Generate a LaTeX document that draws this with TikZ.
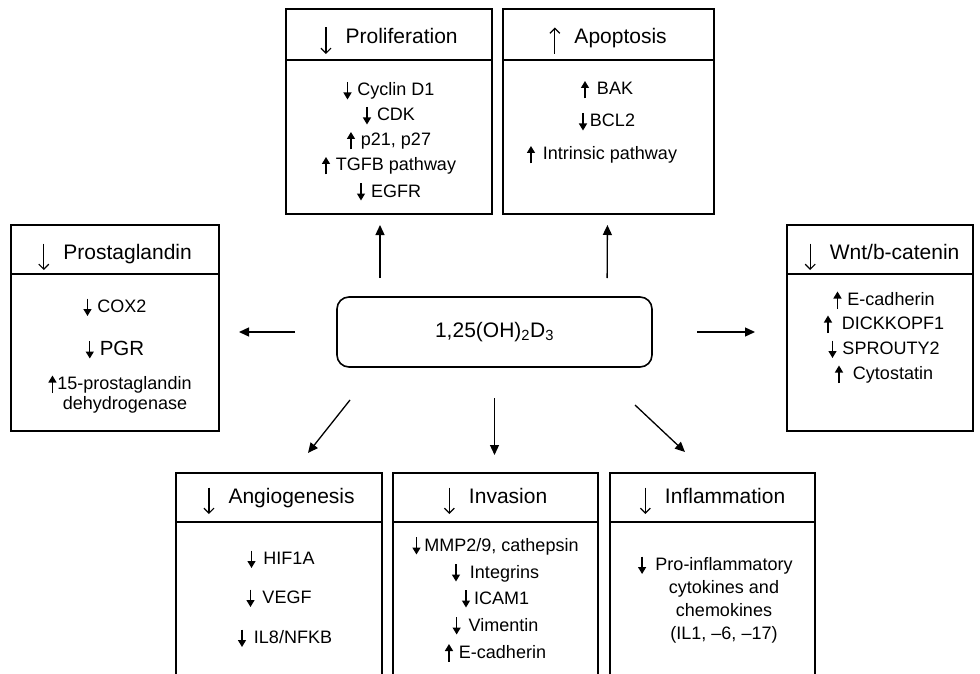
\documentclass[tikz,border=0pt]{standalone}
\usepackage{fontspec}
\setmainfont{Liberation Sans}
\usetikzlibrary{arrows.meta}
\newcommand\idn{\tikz[baseline=0pt]\draw[line width=1.4pt,-{Triangle[length=7pt,width=8pt]}] (0pt,14pt)--(0pt,-3.5pt);}
\newcommand\iup{\tikz[baseline=0pt]\draw[line width=1.4pt,-{Triangle[length=7pt,width=8pt]}] (0pt,-3.5pt)--(0pt,14pt);}
\newcommand\hdn{\tikz[baseline=0pt]\draw[line width=1.2pt,-{Straight Barb[length=5pt,width=10pt]}] (0pt,16pt)--(0pt,-10.5pt);}
\newcommand\hup{\tikz[baseline=0pt]\draw[line width=1.2pt,-{Straight Barb[length=5pt,width=10pt]}] (0pt,-10.5pt)--(0pt,16pt);}
\begin{document}
\begin{tikzpicture}[x=1pt,y=-1pt,
  frame/.style={draw,line width=1.6pt,inner sep=0pt,outer sep=0pt},
  divl/.style={line width=1.6pt},
  hd/.style={font=\fontsize{21}{25}\selectfont,anchor=base,inner sep=0pt},
  it/.style={font=\fontsize{18}{22}\selectfont,anchor=base,inner sep=0pt},
  conn/.style={line width=1.3pt,-{Triangle[length=10pt,width=9pt]}}]
\useasboundingbox (0,0) rectangle (980,674);
\clip (0,0) rectangle (980,674);
\fill[white] (0,0) rectangle (980,674);

% centre
\node[frame,rounded corners=12pt,minimum width=315pt,minimum height=70pt,font=\fontsize{21}{25}\selectfont] (cbox) at (494.5,332) {1,25(OH)\textsubscript{2}D\textsubscript{3}};

% Proliferation
\node[frame,minimum width=206pt,minimum height=205pt,anchor=north west] (prolif) at (286,9) {};
\draw[divl] (286,60) -- (492,60);
\node[hd] (prolifH) at (389,43.5) {\hdn\hspace{14pt}Proliferation};
\node[it] (p1) at (389,96) {\idn\hspace{6pt}Cyclin D1};
\node[it] (p2) at (389,121) {\idn\hspace{6pt}CDK};
\node[it] (p3) at (389,146) {\iup\hspace{6pt}p21, p27};
\node[it] (p4) at (389,171) {\iup\hspace{6pt}TGFB pathway};
\node[it] (p5) at (389,197) {\idn\hspace{6pt}EGFR};

% Apoptosis
\node[frame,minimum width=211pt,minimum height=205pt,anchor=north west] (apop) at (503,9) {};
\draw[divl] (503,60) -- (714,60);
\node[hd] (apopH) at (608,43.5) {\hup\hspace{14pt}Apoptosis};
\node[it] (a1) at (607,95) {\iup\hspace{8pt}BAK};
\node[it] (a2) at (607,127) {\idn\hspace{3pt}BCL2};
\node[it] (a3) at (602,160) {\iup\hspace{8pt}Intrinsic pathway};

% Prostaglandin
\node[frame,minimum width=208pt,minimum height=206pt,anchor=north west] (prosta) at (11,225) {};
\draw[divl] (11,274) -- (219,274);
\node[hd] (prostaH) at (115,259.5) {\hdn\hspace{14pt}Prostaglandin};
\node[it] (g1) at (115,312.5) {\idn\hspace{6pt}COX2};
\node[it,font=\fontsize{20.5}{24}\selectfont] (g2) at (115,355) {\idn\hspace{6pt}PGR};
\node[it] (g3) at (120,389.5) {\iup\hspace{1pt}15-prostaglandin};
\node[it] (g4) at (125,409.5) {dehydrogenase};

% Wnt
\node[frame,minimum width=186pt,minimum height=206pt,anchor=north west] (wnt) at (787,225) {};
\draw[divl] (787,274) -- (973,274);
\node[hd] (wntH) at (882,259.5) {\hdn\hspace{14pt}Wnt/b-catenin};
\node[it] (w1) at (884,305.5) {\iup\hspace{6pt}E-cadherin};
\node[it] (w2) at (884,329.5) {\iup\hspace{10pt}DICKKOPF1};
\node[it] (w3) at (884,354.5) {\idn\hspace{6pt}SPROUTY2};
\node[it] (w4) at (884,379.5) {\iup\hspace{10pt}Cytostatin};

% Angiogenesis
\node[frame,minimum width=206pt,minimum height=240pt,anchor=north west] (angio) at (176,473) {};
\draw[divl] (176,522) -- (382,522);
\node[hd] (angioH) at (279,503.5) {\hdn\hspace{14pt}Angiogenesis};
\node[it] (n1) at (281,564.5) {\idn\hspace{8pt}HIF1A};
\node[it] (n2) at (279,603.5) {\idn\hspace{8pt}VEGF};
\node[it] (n3) at (285,643.5) {\idn\hspace{8pt}IL8/NFKB};

% Invasion
\node[frame,minimum width=205pt,minimum height=240pt,anchor=north west] (inv) at (393,473) {};
\draw[divl] (393,522) -- (598,522);
\node[hd] (invH) at (495.5,503.5) {\hdn\hspace{14pt}Invasion};
\node[it] (v1) at (495.5,551) {\idn\hspace{4pt}MMP2/9, cathepsin};
\node[it] (v2) at (495.5,578) {\idn\hspace{10pt}Integrins};
\node[it] (v3) at (495.5,604) {\idn\hspace{4pt}ICAM1};
\node[it] (v4) at (495.5,631) {\idn\hspace{8pt}Vimentin};
\node[it] (v5) at (495.5,658) {\iup\hspace{6pt}E-cadherin};

% Inflammation
\node[frame,minimum width=205pt,minimum height=240pt,anchor=north west] (infl) at (610,473) {};
\draw[divl] (610,522) -- (815,522);
\node[hd] (inflH) at (712.5,503.5) {\hdn\hspace{14pt}Inflammation};
\node[it] (f1) at (724,570.5) {Pro-inflammatory};
\node[it,anchor=base east] (f1a) at ([xshift=-9pt]f1.base west) {\idn};
\node[it] (f2) at (724,593.5) {cytokines and};
\node[it] (f3) at (724,616) {chemokines};
\node[it] (f4) at (724,639) {(IL1, \textendash6, \textendash17)};

% connectors
\draw[conn,shorten <=19pt,shorten >=11pt] ([xshift=-114.5pt]cbox.north) -- ([xshift=-9pt]prolif.south);
\draw[conn,shorten <=19pt,shorten >=11pt] ([xshift=112.5pt]cbox.north) -- ([xshift=-1pt]apop.south);
\draw[conn,shorten <=42pt,shorten >=20pt] (cbox.west) -- (prosta.east |- cbox.west);
\draw[conn,shorten <=45pt,shorten >=32pt] (cbox.east) -- (wnt.west |- cbox.east);
\draw[conn,shorten <=31pt,shorten >=18pt] (cbox.south) -- (cbox.south |- inv.north);
\draw[conn] ([xshift=-144.5pt,yshift=-33pt]cbox.south) -- ([xshift=29pt,yshift=20pt]angio.north);
\draw[conn] ([xshift=140.5pt,yshift=-38pt]cbox.south) -- ([xshift=-27.5pt,yshift=21pt]infl.north);
\end{tikzpicture}
\end{document}
